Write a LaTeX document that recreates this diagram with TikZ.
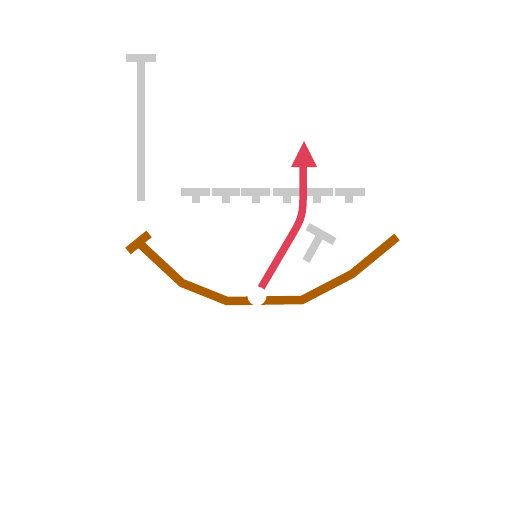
\documentclass[tikz,border=0pt]{standalone}
\usetikzlibrary{calc}
\definecolor{blockgrey}{HTML}{C8C8C8}
\definecolor{routered}{HTML}{DE4157}
\definecolor{pocket}{HTML}{AD5F00}
\tikzset{
  greyline/.style={draw=blockgrey,line width=8pt,line cap=butt},
  redline/.style={draw=routered,line width=7.5pt,line cap=butt},
  orangeline/.style={draw=pocket,line width=8.5pt,line cap=butt,line join=miter},
}
\begin{document}
\begin{tikzpicture}[x=1pt,y=-1pt]
\useasboundingbox (0,0) rectangle (512,512);
% vertical route with T
\coordinate (vs) at (141,201);
\coordinate (vt) at (141,58);
\draw[greyline] (vs) -- (vt);
\draw[greyline] (126,58) -- (156,58);
% row of blocks
\foreach \c/\l/\r in {196/181/210, 226/212/240, 256/241/270, 287/273/302, 317/303/333, 349/335/365}{
  \draw[greyline] (\c,203) -- (\c,192);
  \draw[greyline] (\l,192) -- (\r,192);
}
% angled block
\coordinate (as) at (306,261);
\coordinate (at) at (321,234);
\draw[greyline] (as) -- (at);
\draw[greyline] ($(at)+(-13.5,-7.5)$) -- ($(at)+(13.5,7.5)$);
% orange pocket line
\draw[orangeline] (139,243) -- (182,283) -- (227,301) -- (302,300) -- (352,274) -- (397,237);
\draw[orangeline] (128,251) -- (149,234);
% red route
\coordinate (rs) at (261,288);
\coordinate (re) at (303,166);
\draw[redline] (rs) -- (295,230) to[out=60,in=-90] (303,200) -- (re);
\fill[routered] (304,141) -- (317,167) -- (291,167) -- cycle;
% ball / center
\node[circle,fill=white,inner sep=0pt,minimum size=19pt] (ball) at (257,296) {};
\end{tikzpicture}
\end{document}
